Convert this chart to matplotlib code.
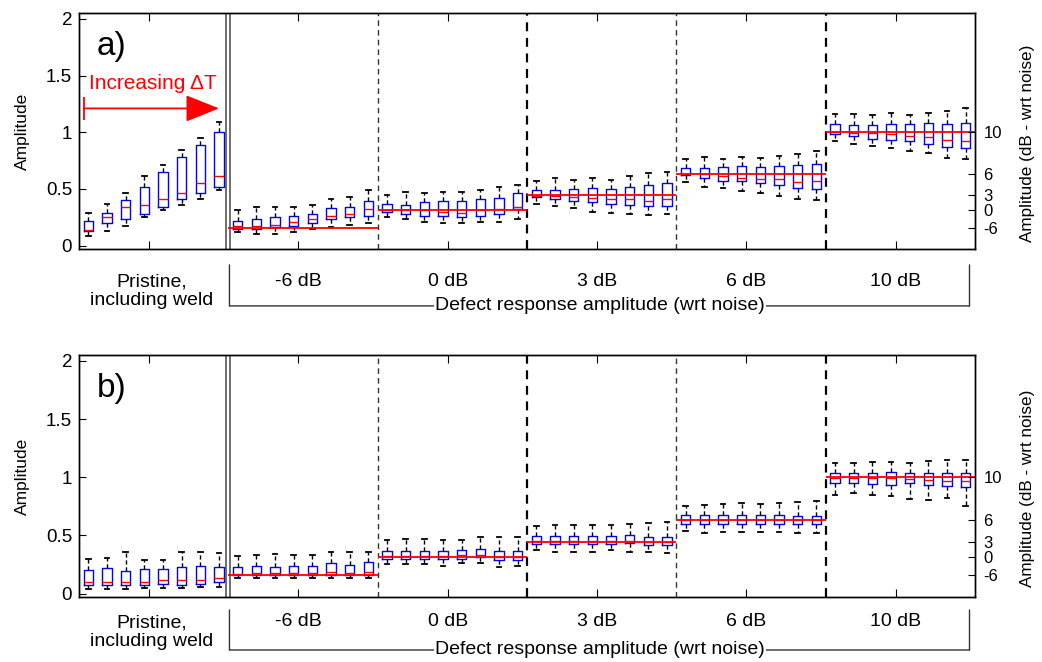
"""Box plots of amplitude per temperature step, pristine vs defect levels (panels a and b)."""

import matplotlib.pyplot as plt
import matplotlib.transforms as mtransforms
import numpy as np

plt.rcParams.update({
    "font.family": ["Liberation Sans", "DejaVu Sans"],
    "font.size": 14,
    "xtick.direction": "in",
    "ytick.direction": "in",
    "axes.linewidth": 1.0,
})

GROUP_LABELS = ["Pristine,\nincluding weld", "-6 dB", "0 dB", "3 dB", "6 dB", "10 dB"]
DB_LEVELS = [-6, 0, 3, 6, 10]
N_PER_GROUP = 8

# ---- panel a: whisker low, q1, median, q3, whisker high (8 boxes per group)
A_LOW = [0.08, 0.13, 0.17, 0.25, 0.31, 0.36, 0.41, 0.49,
         0.12, 0.10, 0.10, 0.12, 0.15, 0.16, 0.18, 0.20,
         0.25, 0.23, 0.21, 0.20, 0.20, 0.21, 0.21, 0.23,
         0.37, 0.35, 0.33, 0.30, 0.29, 0.28, 0.27, 0.28,
         0.56, 0.52, 0.51, 0.48, 0.46, 0.44, 0.41, 0.40,
         0.92, 0.90, 0.88, 0.86, 0.83, 0.82, 0.77, 0.76]
A_Q1 = [0.13, 0.20, 0.23, 0.28, 0.34, 0.41, 0.46, 0.52,
        0.15, 0.15, 0.16, 0.17, 0.20, 0.23, 0.25, 0.26,
        0.30, 0.28, 0.26, 0.26, 0.25, 0.26, 0.28, 0.32,
        0.43, 0.41, 0.39, 0.38, 0.37, 0.36, 0.35, 0.35,
        0.62, 0.60, 0.57, 0.57, 0.55, 0.53, 0.51, 0.50,
        0.98, 0.97, 0.94, 0.93, 0.92, 0.90, 0.87, 0.86]
A_MED = [0.14, 0.25, 0.34, 0.36, 0.41, 0.46, 0.55, 0.61,
         0.17, 0.17, 0.18, 0.21, 0.23, 0.26, 0.28, 0.32,
         0.31, 0.31, 0.31, 0.30, 0.29, 0.31, 0.32, 0.34,
         0.44, 0.44, 0.43, 0.42, 0.41, 0.41, 0.39, 0.41,
         0.63, 0.63, 0.61, 0.60, 0.59, 0.59, 0.56, 0.57,
         1.00, 0.99, 0.99, 0.98, 0.97, 0.96, 0.93, 0.92]
A_Q3 = [0.22, 0.29, 0.40, 0.52, 0.65, 0.78, 0.89, 1.00,
        0.22, 0.23, 0.25, 0.26, 0.28, 0.33, 0.34, 0.39,
        0.37, 0.36, 0.38, 0.39, 0.39, 0.41, 0.42, 0.46,
        0.49, 0.49, 0.50, 0.51, 0.50, 0.52, 0.53, 0.55,
        0.68, 0.68, 0.69, 0.70, 0.69, 0.70, 0.71, 0.72,
        1.07, 1.06, 1.06, 1.07, 1.07, 1.08, 1.07, 1.08]
A_HIGH = [0.29, 0.37, 0.46, 0.61, 0.71, 0.84, 0.95, 1.09,
          0.31, 0.34, 0.34, 0.34, 0.36, 0.41, 0.43, 0.49,
          0.45, 0.47, 0.46, 0.47, 0.47, 0.49, 0.52, 0.53,
          0.57, 0.60, 0.58, 0.60, 0.58, 0.61, 0.64, 0.65,
          0.76, 0.78, 0.76, 0.78, 0.77, 0.79, 0.81, 0.83,
          1.16, 1.16, 1.15, 1.17, 1.15, 1.17, 1.19, 1.21]

# ---- panel b
B_LOW = [0.04, 0.04, 0.04, 0.05, 0.05, 0.05, 0.06, 0.06,
         0.13, 0.13, 0.13, 0.13, 0.13, 0.13, 0.13, 0.13,
         0.25, 0.25, 0.25, 0.24, 0.26, 0.26, 0.23, 0.24,
         0.37, 0.36, 0.36, 0.36, 0.37, 0.36, 0.36, 0.35,
         0.54, 0.52, 0.53, 0.53, 0.53, 0.53, 0.52, 0.52,
         0.85, 0.86, 0.85, 0.84, 0.81, 0.80, 0.82, 0.75]
B_Q1 = [0.075, 0.07, 0.075, 0.075, 0.08, 0.075, 0.08, 0.095,
        0.16, 0.16, 0.16, 0.16, 0.16, 0.16, 0.16, 0.16,
        0.30, 0.30, 0.30, 0.30, 0.30, 0.31, 0.29, 0.29,
        0.425, 0.425, 0.425, 0.425, 0.425, 0.43, 0.42, 0.415,
        0.60, 0.60, 0.60, 0.60, 0.60, 0.60, 0.595, 0.595,
        0.95, 0.946, 0.944, 0.937, 0.946, 0.937, 0.928, 0.916]
B_MED = [0.097, 0.097, 0.097, 0.103, 0.118, 0.112, 0.112, 0.135,
         0.166, 0.172, 0.172, 0.172, 0.178, 0.184, 0.178, 0.184,
         0.325, 0.325, 0.325, 0.325, 0.33, 0.335, 0.318, 0.318,
         0.448, 0.448, 0.448, 0.448, 0.45, 0.455, 0.445, 0.44,
         0.635, 0.635, 0.633, 0.633, 0.635, 0.635, 0.63, 0.63,
         0.989, 0.989, 0.989, 0.989, 0.985, 0.98, 0.971, 0.966]
B_Q3 = [0.204, 0.218, 0.195, 0.21, 0.213, 0.227, 0.239, 0.227,
        0.224, 0.239, 0.23, 0.239, 0.239, 0.261, 0.247, 0.267,
        0.368, 0.368, 0.368, 0.368, 0.37, 0.38, 0.362, 0.362,
        0.491, 0.491, 0.491, 0.491, 0.491, 0.50, 0.49, 0.49,
        0.672, 0.672, 0.672, 0.672, 0.672, 0.672, 0.67, 0.67,
        1.037, 1.037, 1.037, 1.043, 1.037, 1.037, 1.032, 1.032]
B_HIGH = [0.296, 0.304, 0.353, 0.29, 0.29, 0.356, 0.353, 0.347,
          0.325, 0.333, 0.342, 0.333, 0.333, 0.353, 0.356, 0.353,
          0.457, 0.471, 0.471, 0.457, 0.457, 0.483, 0.483, 0.483,
          0.578, 0.592, 0.592, 0.592, 0.585, 0.60, 0.606, 0.612,
          0.756, 0.765, 0.77, 0.778, 0.77, 0.778, 0.784, 0.793,
          1.118, 1.118, 1.132, 1.132, 1.123, 1.138, 1.147, 1.147]


def db_to_amp(db):
    # 10 dB above noise is normalised to amplitude 1
    return 10 ** ((db - 10) / 20)


def px_offset(fig, dy_px):
    return mtransforms.ScaledTranslation(0, -dy_px / fig.dpi, fig.dpi_scale_trans)


def draw_panel(fig, rect, low, q1, med, q3, high, tag, lab_dy, prist_dy, br_top, br_bot):
    ax = fig.add_axes(rect)
    stats = [dict(whislo=a, q1=b, med=c, q3=d, whishi=e)
             for a, b, c, d, e in zip(low, q1, med, q3, high)]
    pos = np.arange(1, len(stats) + 1)
    ax.bxp(stats, positions=pos, widths=0.5, capwidths=0.25, showfliers=False,
           manage_ticks=False,
           boxprops=dict(color="blue", lw=1.0),
           medianprops=dict(color="red", lw=1.0),
           whiskerprops=dict(color="black", lw=1.0, linestyle=(0, (3, 2))),
           capprops=dict(color="black", lw=1.3))

    n_groups = len(GROUP_LABELS)
    # noise-referenced levels for each defect group
    for i, db in enumerate(DB_LEVELS):
        x0 = N_PER_GROUP * (i + 1) + 0.5
        ax.hlines(db_to_amp(db), x0, x0 + N_PER_GROUP, color="red", lw=1.3, zorder=3)

    # separators
    for xs in (8.4, 8.6):
        ax.axvline(xs, color="#555555", lw=1.2)
    for k, xb in enumerate(np.arange(2, n_groups) * N_PER_GROUP + 0.5):
        if k % 2 == 0:
            ax.axvline(xb, color="#333333", lw=1.0, linestyle=(0, (4, 3)))
        else:
            ax.axvline(xb, color="black", lw=1.6, linestyle=(0, (4, 3)))

    ax.set_xlim(0.5, N_PER_GROUP * n_groups + 0.5)
    ax.set_ylim(-0.03, 2.05)
    centers = np.arange(n_groups) * N_PER_GROUP + 4.25
    ax.set_xticks(centers)
    ax.set_xticklabels([])
    ax.set_xticks(np.arange(2, n_groups) * N_PER_GROUP + 0.5, minor=True)
    ax.tick_params(axis="x", which="major", length=6, top=True)
    ax.tick_params(axis="x", which="minor", length=3, top=False)
    ax.set_yticks([0, 0.5, 1, 1.5, 2])
    ax.set_yticklabels(["0", "0.5", "1", "1.5", "2"])
    ax.tick_params(axis="y", length=5, pad=5, right=False, labelsize=13.5)
    ax.set_ylabel("Amplitude", fontsize=12.5)
    ax.yaxis.set_label_coords(-0.055, 0.5)

    ax2 = ax.twinx()
    ax2.set_ylim(ax.get_ylim())
    ax2.set_yticks([db_to_amp(d) for d in DB_LEVELS])
    ax2.set_yticklabels([str(d) for d in DB_LEVELS])
    ax2.tick_params(axis="y", length=5, pad=6, labelsize=12)
    ax2.set_ylabel("Amplitude (dB - wrt noise)", fontsize=12.3)
    ax2.yaxis.set_label_coords(1.05, 0.45)

    ax.text(0.02, 0.86, tag, transform=ax.transAxes, fontsize=24, va="center")

    # group labels and bracket below the axis
    base = mtransforms.blended_transform_factory(ax.transData, ax.transAxes)
    ax.text(4.4, 0, GROUP_LABELS[0], ha="center", va="center", linespacing=1.1,
            transform=base + px_offset(fig, prist_dy))
    for i, lab in enumerate(GROUP_LABELS[1:]):
        ax.text(centers[i + 1], 0, lab, ha="center", va="center",
                transform=base + px_offset(fig, lab_dy))
    x_left, x_right = 8.56, 48.2
    for xv in (x_left, x_right):
        ax.annotate("", xy=(xv, 0), xycoords=base + px_offset(fig, br_bot),
                    xytext=(xv, 0), textcoords=base + px_offset(fig, br_top),
                    arrowprops=dict(arrowstyle="-", color="#333333", lw=1.0,
                                    shrinkA=0, shrinkB=0))
    ax.annotate("", xy=(x_right, 0), xycoords=base + px_offset(fig, br_bot),
                xytext=(x_left, 0), textcoords=base + px_offset(fig, br_bot),
                arrowprops=dict(arrowstyle="-", color="#333333", lw=1.0,
                                shrinkA=0, shrinkB=0))
    ax.text(28.4, 0, "Defect response amplitude (wrt noise)", ha="center", va="center",
            transform=base + px_offset(fig, br_bot),
            bbox=dict(facecolor="white", edgecolor="none", pad=1.0))
    return ax


fig = plt.figure(figsize=(10.42, 6.62), dpi=100)

ax_a = draw_panel(fig, [0.0758, 0.624, 0.860, 0.356], A_LOW, A_Q1, A_MED, A_Q3, A_HIGH,
                  "a)", lab_dy=33, prist_dy=42, br_top=16, br_bot=57)
ax_b = draw_panel(fig, [0.0758, 0.0982, 0.860, 0.3655], B_LOW, B_Q1, B_MED, B_Q3, B_HIGH,
                  "b)", lab_dy=25, prist_dy=35, br_top=13, br_bot=53)

# temperature-increase arrow in panel a
ax_a.annotate("", xy=(8.0, 1.21), xytext=(0.75, 1.21),
              arrowprops=dict(arrowstyle="-|>,head_length=1.5,head_width=0.6",
                              color="red", lw=1.3, shrinkA=0, shrinkB=0))
ax_a.vlines(0.75, 1.11, 1.31, color="red", lw=1.3)
ax_a.text(4.45, 1.43, "Increasing \u0394T", color="red", ha="center", va="center", fontsize=15)

fig.savefig("out.png", dpi=100)
